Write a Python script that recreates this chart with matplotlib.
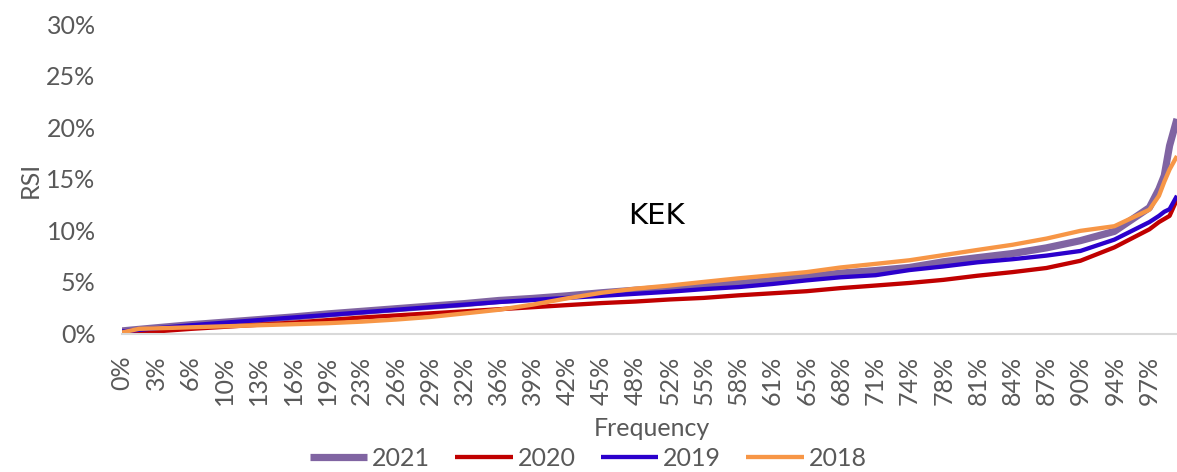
import numpy as np
import matplotlib
matplotlib.use("Agg")
import matplotlib.pyplot as plt

freq = [0.0, 0.016, 0.032, 0.065, 0.097, 0.129, 0.161, 0.194, 0.226, 0.258,
        0.290, 0.323, 0.355, 0.387, 0.419, 0.452, 0.484, 0.516, 0.548, 0.581,
        0.613, 0.645, 0.677, 0.710, 0.742, 0.774, 0.806, 0.839, 0.871, 0.903,
        0.935, 0.968, 0.977, 0.982, 0.987, 0.994]

# RSI in percent
rsi_2021 = [0.25, 0.4, 0.55, 0.85, 1.1, 1.35, 1.6, 1.9, 2.15, 2.4,
            2.65, 2.9, 3.2, 3.4, 3.65, 3.95, 4.2, 4.4, 4.65, 4.85,
            5.15, 5.5, 5.85, 6.1, 6.4, 6.95, 7.35, 7.75, 8.3, 9.0,
            9.9, 12.2, 14.0, 15.3, 18.2, 20.8]
rsi_2020 = [0.0, 0.1, 0.2, 0.45, 0.65, 0.85, 1.05, 1.3, 1.55, 1.75,
            1.95, 2.15, 2.35, 2.55, 2.75, 2.95, 3.1, 3.3, 3.45, 3.7,
            3.9, 4.1, 4.4, 4.65, 4.9, 5.2, 5.6, 5.95, 6.35, 7.05,
            8.35, 10.1, 10.8, 11.1, 11.4, 13.0]
rsi_2019 = [0.2, 0.35, 0.5, 0.8, 1.05, 1.3, 1.55, 1.8, 2.05, 2.3,
            2.55, 2.8, 3.05, 3.25, 3.45, 3.65, 3.85, 4.05, 4.3, 4.5,
            4.8, 5.15, 5.45, 5.65, 6.15, 6.5, 6.9, 7.2, 7.55, 8.0,
            9.1, 10.8, 11.4, 11.8, 12.05, 13.35]
rsi_2018 = [0.1, 0.45, 0.5, 0.6, 0.7, 0.8, 0.9, 1.0, 1.15, 1.35,
            1.6, 1.95, 2.3, 2.8, 3.4, 3.95, 4.35, 4.65, 5.0, 5.35,
            5.65, 5.95, 6.4, 6.75, 7.1, 7.6, 8.1, 8.6, 9.2, 9.95,
            10.4, 12.0, 13.35, 14.7, 15.9, 17.2]

years = ["2021", "2020", "2019", "2018"]
colors = ["#8064A2", "#C00000", "#2B00CC", "#F79646"]
widths = [5.2, 3.1, 3.1, 3.1]

xlabels = ["0%", "3%", "6%", "10%", "13%", "16%", "19%", "23%", "26%", "29%",
           "32%", "36%", "39%", "42%", "45%", "48%", "52%", "55%", "58%", "61%",
           "65%", "68%", "71%", "74%", "78%", "81%", "84%", "87%", "90%", "94%", "97%"]
ylevels = [0, 5, 10, 15, 20, 25, 30]

grey = "#595959"
plt.rcParams['font.family'] = ['Lato', 'DejaVu Sans']
fs = 18

W, H = 1177, 472
fig = plt.figure(figsize=(W / 100, H / 100), dpi=100)
ax = fig.add_axes([122 / W, (H - 333.5) / H, (W - 122) / W, (333.5 - 24) / H])

series = [rsi_2021, rsi_2020, rsi_2019, rsi_2018]
for yr, vals, c, lw in zip(years, series, colors, widths):
    ax.plot(freq, vals, color=c, lw=lw, label=yr, solid_capstyle='butt')

ax.set_xlim(0, 0.994)
ax.set_ylim(0, 30)

ax.set_xticks(np.arange(len(xlabels)) / 31)
ax.set_xticklabels(xlabels, rotation=90, fontsize=fs, color=grey)
ax.set_yticks(ylevels)
ax.set_yticklabels([f"{v}%" for v in ylevels], fontsize=fs, color=grey)
ax.tick_params(axis='both', length=0)
ax.tick_params(axis='x', pad=16)
ax.tick_params(axis='y', pad=19)

for s in ['top', 'right', 'left']:
    ax.spines[s].set_visible(False)
ax.spines['bottom'].set_color("#D9D9D9")
ax.spines['bottom'].set_linewidth(1.5)

ax.text(0.507, 0.38, "KEK", transform=ax.transAxes, fontsize=21,
        family='DejaVu Sans', color='black', ha='center', va='center')

fig.text(30 / W, 1 - 180 / H, "RSI", rotation=90, fontsize=fs, color=grey,
         ha='center', va='center')
fig.text(652 / W, 1 - 429 / H, "Frequency", fontsize=fs, color=grey,
         ha='center', va='center')

leg = fig.legend(loc='center', bbox_to_anchor=(588 / W, 1 - 458 / H), ncol=4,
                 frameon=False, fontsize=fs, handlelength=2.3,
                 handletextpad=0.2, columnspacing=1.0)
for t in leg.get_texts():
    t.set_color(grey)

fig.savefig("out.png", dpi=100)
